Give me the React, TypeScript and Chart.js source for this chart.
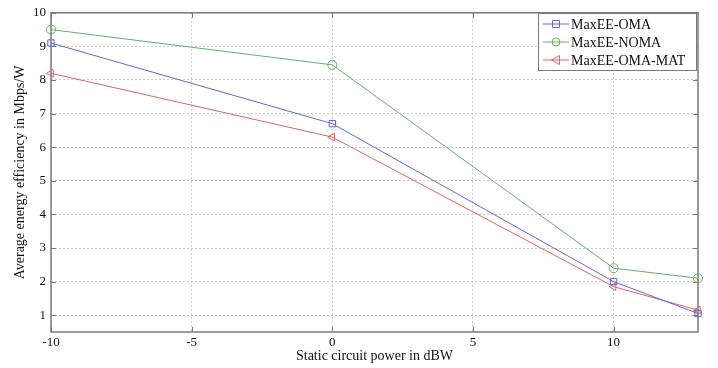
import React, { useEffect, useRef } from "react";
import { Chart, registerables } from "chart.js";

Chart.register(...registerables);

const xValues = [-10, 0, 10, 13];
const omaValues = [9.1, 6.7, 2.0, 1.05];
const nomaValues = [9.5, 8.45, 2.4, 2.1];
const matValues = [8.2, 6.3, 1.85, 1.15];
const xTicks = [-10, -5, 0, 5, 10];
const yTicks = [1, 2, 3, 4, 5, 6, 7, 8, 9, 10];
const seriesNames = ["MaxEE-OMA", "MaxEE-NOMA", "MaxEE-OMA-MAT"];

const BLUE = "#6464dc";
const GREEN = "#64b064";
const RED = "#dc6464";
const AXIS = "#7a7a7a";
const FONT = "'Liberation Serif', 'Times New Roman', serif";

const toPoints = (ys: number[]) => xValues.map((x, i) => ({ x, y: ys[i] }));

const framePlugin = {
  id: "frame",
  beforeDatasetsDraw(chart: any) {
    const { ctx, chartArea: a, scales } = chart;
    ctx.save();
    ctx.strokeStyle = AXIS;
    ctx.lineWidth = 1.5;
    ctx.strokeRect(a.left, a.top, a.right - a.left, a.bottom - a.top);
    ctx.lineWidth = 1;
    const tl = 5;
    ctx.beginPath();
    xTicks.forEach((v) => {
      const px = Math.round(scales.x.getPixelForValue(v)) + 0.5;
      ctx.moveTo(px, a.bottom);
      ctx.lineTo(px, a.bottom - tl);
      ctx.moveTo(px, a.top);
      ctx.lineTo(px, a.top + tl);
    });
    yTicks.forEach((v) => {
      const py = Math.round(scales.y.getPixelForValue(v)) + 0.5;
      ctx.moveTo(a.left, py);
      ctx.lineTo(a.left + tl, py);
      ctx.moveTo(a.right, py);
      ctx.lineTo(a.right - tl, py);
    });
    ctx.stroke();
    ctx.restore();
  },
  afterDraw(chart: any) {
    const { ctx } = chart;
    const bx = 538, by = 13, bw = 158, bh = 57;
    ctx.save();
    ctx.fillStyle = "#ffffff";
    ctx.fillRect(bx, by, bw, bh);
    ctx.strokeStyle = AXIS;
    ctx.lineWidth = 1;
    ctx.strokeRect(bx + 0.5, by + 0.5, bw, bh);
    const colors = [BLUE, GREEN, RED];
    ctx.font = `14px ${FONT}`;
    ctx.textBaseline = "middle";
    seriesNames.forEach((name, i) => {
      const y = by + 11 + i * 18;
      ctx.strokeStyle = colors[i];
      ctx.lineWidth = 1;
      ctx.beginPath();
      ctx.moveTo(543, y);
      ctx.lineTo(569, y);
      ctx.stroke();
      const cx = 556;
      ctx.beginPath();
      if (i === 0) {
        ctx.rect(cx - 3.5, y - 3.5, 7, 7);
      } else if (i === 1) {
        ctx.arc(cx, y, 4, 0, Math.PI * 2);
      } else {
        ctx.moveTo(cx - 4.5, y);
        ctx.lineTo(cx + 3.5, y - 4.5);
        ctx.lineTo(cx + 3.5, y + 4.5);
        ctx.closePath();
      }
      ctx.stroke();
      ctx.fillStyle = "#111";
      ctx.fillText(name, 571, y + 1);
    });
    ctx.restore();
  },
};

export default function App() {
  const canvasRef = useRef<HTMLCanvasElement | null>(null);

  useEffect(() => {
    if (!canvasRef.current) return;
    const common = {
      showLine: true,
      borderWidth: 1,
      pointRadius: 4.5,
      pointBackgroundColor: "rgba(0,0,0,0)",
      pointBorderWidth: 1,
      fill: false,
      tension: 0,
      clip: false,
    };
    const chart = new Chart(canvasRef.current, {
      type: "scatter",
      data: {
        datasets: [
          {
            ...common,
            label: seriesNames[0],
            data: toPoints(omaValues),
            borderColor: BLUE,
            pointBorderColor: BLUE,
            pointStyle: "rect",
          },
          {
            ...common,
            label: seriesNames[1],
            data: toPoints(nomaValues),
            borderColor: GREEN,
            pointBorderColor: GREEN,
            pointStyle: "circle",
          },
          {
            ...common,
            label: seriesNames[2],
            data: toPoints(matValues),
            borderColor: RED,
            pointBorderColor: RED,
            pointStyle: "triangle",
            pointRotation: 270,
          },
        ],
      },
      options: {
        animation: false,
        responsive: false,
        maintainAspectRatio: false,
        layout: { padding: { top: 8, right: 20, left: 0, bottom: 0 } },
        plugins: {
          legend: { display: false },
          tooltip: { enabled: false },
        },
        scales: {
          x: {
            type: "linear",
            min: -10,
            max: 13,
            afterBuildTicks: (s: any) => {
              s.ticks = xTicks.map((v) => ({ value: v }));
            },
            afterFit: (s: any) => {
              s.height = 36;
            },
            grid: { color: "#cccccc", drawTicks: false, lineWidth: 1 },
            border: { display: false, dash: [2, 2] },
            ticks: {
              padding: 3,
              color: "#111",
              font: { family: FONT, size: 13 },
              maxRotation: 0,
            },
            title: {
              display: true,
              text: "Static circuit power in dBW",
              color: "#111",
              font: { family: FONT, size: 14 },
              padding: { top: 0, bottom: 3 },
            },
          },
          y: {
            type: "linear",
            min: 0.5,
            max: 10,
            afterBuildTicks: (s: any) => {
              s.ticks = yTicks.map((v) => ({ value: v }));
            },
            afterFit: (s: any) => {
              s.width = 51;
            },
            grid: { color: "#cccccc", drawTicks: false, lineWidth: 1 },
            border: { display: false, dash: [2, 2] },
            ticks: {
              padding: 5,
              color: "#111",
              font: { family: FONT, size: 13 },
            },
            title: {
              display: true,
              text: "Average energy efficiency in Mbps/W",
              color: "#111",
              font: { family: FONT, size: 14 },
              padding: { top: 12, bottom: 0 },
            },
          },
        },
      },
      plugins: [framePlugin],
    } as any);
    return () => chart.destroy();
  }, []);

  return (
    <div style={{ position: "fixed", left: 0, top: 0, width: 718, height: 368, background: "#fff" }}>
      <canvas ref={canvasRef} width={718} height={368} style={{ width: 718, height: 368 }} />
    </div>
  );
}
